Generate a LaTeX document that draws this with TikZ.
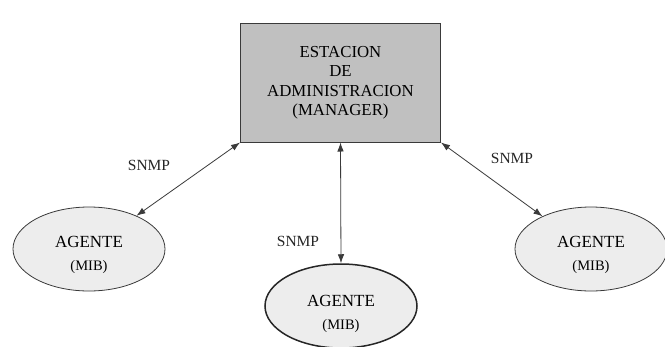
\documentclass[tikz,border=0pt]{standalone}
\usepackage{fontspec}
\setmainfont{Liberation Serif}
\usetikzlibrary{shapes.geometric,arrows.meta}
\definecolor{boxgray}{HTML}{C0C0C0}
\definecolor{agentfill}{HTML}{EDEDED}
\definecolor{edgegray}{HTML}{3A3A3A}
\newcommand\mibsize{\fontsize{14.5}{14.5}\selectfont}
\tikzset{
  manager/.style={draw=edgegray, line width=1pt, fill=boxgray,
    minimum width=200pt, minimum height=119pt, inner sep=0pt,
    align=center, font=\fontsize{16.8}{19.5}\selectfont},
  agent/.style={ellipse, draw=edgegray, line width=0.8pt, fill=agentfill,
    minimum width=152pt, minimum height=84pt, inner sep=0pt},
  agentlabel/.style={align=center, inner sep=0pt,
    font=\fontsize{17}{23}\selectfont},
  link/.style={draw=edgegray, line width=0.8pt,
    {Latex[length=9pt,width=6.5pt]}-{Latex[length=9pt,width=6.5pt]}},
  proto/.style={font=\fontsize{15.5}{15.5}\selectfont, text=black!85}
}
\begin{document}
\begin{tikzpicture}[x=1pt,y=-1pt]
  \useasboundingbox[fill=white] (0,0) rectangle (665,346);

  % management station
  \node[manager] (mgr) at (340.5,82.5)
    {ESTACION\\DE\\ADMINISTRACION\\(MANAGER)};

  % agents
  \node[agent] (agl) at (89,249) {};
  \node[agent, line width=1.5pt, draw=black!85] (agm) at (341,306) {};
  \node[agent] (agr) at (591,249) {};
  \node[agentlabel] (agl-t) at ([yshift=-6pt]agl.center) {AGENTE\\{\mibsize (MIB)}};
  \node[agentlabel] (agm-t) at ([yshift=-8pt]agm.center) {AGENTE\\{\mibsize (MIB)}};
  \node[agentlabel] (agr-t) at ([yshift=-6pt]agr.center) {AGENTE\\{\mibsize (MIB)}};

  % SNMP links
  \draw[link] (mgr.south west) -- (agl.35);
  \draw[link] (mgr.south) -- (agm.north);
  \draw[link] (mgr.south east) -- (agr.146);

  % protocol labels
  \node[proto] (snl) at (149,165) {SNMP};
  \node[proto] (snm) at (298,241) {SNMP};
  \node[proto] (snr) at (512,158) {SNMP};
\end{tikzpicture}
\end{document}
